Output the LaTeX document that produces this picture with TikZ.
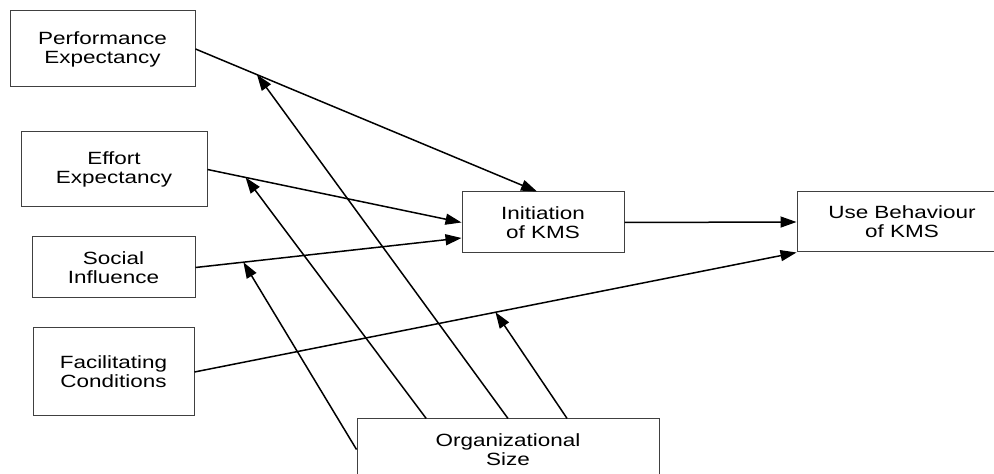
\documentclass[tikz,border=0pt]{standalone}
\usepackage{fontspec}
\setmainfont[FakeStretch=1.27]{Liberation Sans}
\usepackage{tikz}
\usetikzlibrary{arrows.meta,calc}

\begin{document}
\begin{tikzpicture}[x=0.5pt,y=-0.5pt,
  box/.style={draw=black!75,line width=0.5pt,inner sep=0pt,align=center,
    font=\fontsize{8.85}{9.5}\selectfont},
  link/.style={line width=0.75pt,-{Triangle[length=8pt,width=5.5pt]}}]
\clip (0,0) rectangle (994,474);
\fill[white] (0,0) rectangle (994,474);
% left column
\node[box,minimum width=92.5pt,minimum height=38pt] (perf) at (102.5,49) {Performance\\Expectancy};
\node[box,minimum width=93pt,minimum height=37.5pt] (effort) at (114,169.5) {Effort\\Expectancy};
\node[box,minimum width=81.5pt,minimum height=30.5pt] (social) at (113.5,267.5) {Social\\Influence};
\node[box,minimum width=80.5pt,minimum height=44pt] (facil) at (113.5,372) {Facilitating\\Conditions};
% middle and right
\node[box,minimum width=81pt,minimum height=30.5pt] (init) at (543,222.5) {Initiation\\of KMS};
\node[box,minimum width=105pt,minimum height=30pt] (use) at (902,222) {Use Behaviour\\of KMS};
\node[box,minimum width=151pt,minimum height=30.5pt] (org) at (508,449.5) {Organizational\\Size};
% main paths
\draw[link] (perf.east) -- ([xshift=-3pt]init.north);
\draw[link] (effort.east) -- (init.west);
\draw[link] (social.east) -- ($(init.west)!0.5!(init.south west)$);
\draw[link] (init.east) -- (use.west);
\draw[link] (facil.east) -- (use.south west);
% points on the paths
\coordinate (mperf) at ($(perf.east)!0.18!([xshift=-3pt]init.north)$);
\coordinate (meffort) at ($(effort.east)!0.15!(init.west)$);
\coordinate (msocial) at ($(social.east)!0.18!($(init.west)!0.5!(init.south west)$)$);
\coordinate (mfacil) at ($(facil.east)!0.5!(use.south west)$);
% moderator
\draw[link] (org.west) -- (msocial);
\draw[link] ($(org.north west)!0.23!(org.north east)$) -- (meffort);
\draw[link] (org.north) -- (mperf);
\draw[link] ($(org.north west)!0.695!(org.north east)$) -- (mfacil);
\end{tikzpicture}
\end{document}
